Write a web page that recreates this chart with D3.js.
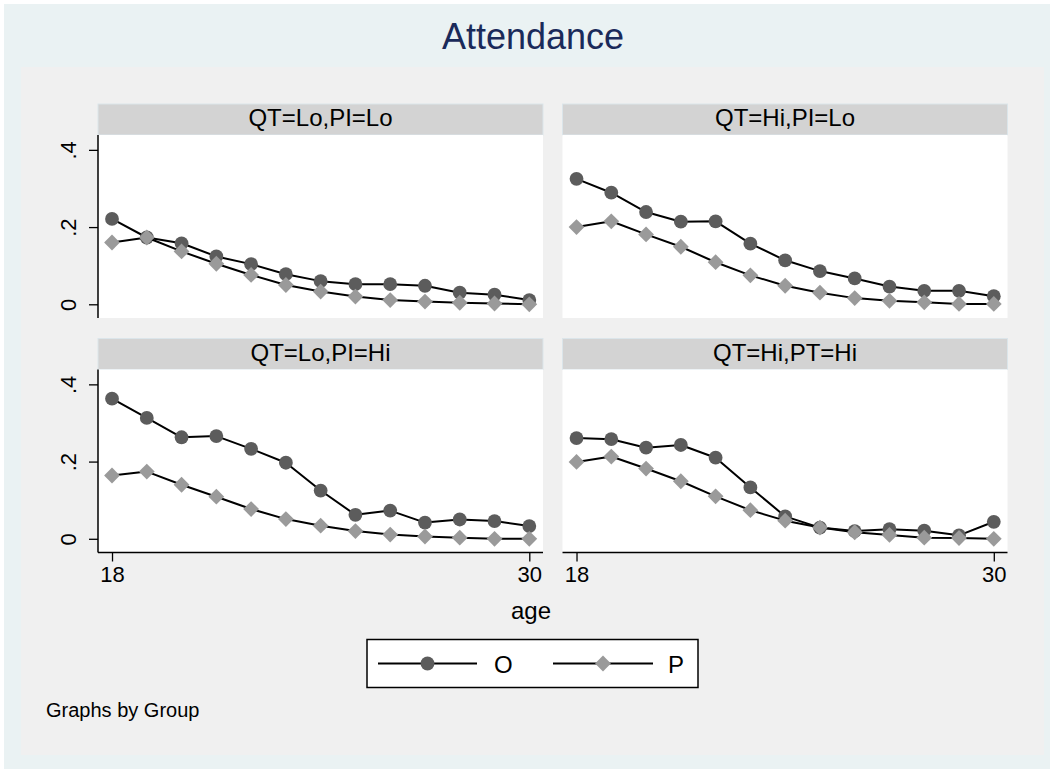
<!DOCTYPE html>
<html>
<head>
<meta charset="utf-8">
<script src="https://cdn.jsdelivr.net/npm/d3@7"></script>
<style>
  html, body { margin: 0; padding: 0; background: #ffffff; }
  svg { display: block; font-family: "Liberation Sans", Arial, Helvetica, sans-serif; }
</style>
</head>
<body>
<svg id="chart" width="1050" height="769"></svg>
<script>
// ---------------- DATA ----------------
const ages = [18, 19, 20, 21, 22, 23, 24, 25, 26, 27, 28, 29, 30];
const panelTitles = ["QT=Lo,PI=Lo", "QT=Hi,PI=Lo", "QT=Lo,PI=Hi", "QT=Hi,PT=Hi"];
const seriesNames = ["O", "P"];
const yTicks = [0, 0.2, 0.4];
const yTickLabels = ["0", ".2", ".4"];
const xTicks = [18, 30];

const loLo_O = [0.221, 0.173, 0.158, 0.124, 0.104, 0.078, 0.060, 0.052, 0.052, 0.048, 0.030, 0.025, 0.011];
const loLo_P = [0.160, 0.173, 0.137, 0.105, 0.076, 0.050, 0.033, 0.020, 0.011, 0.007, 0.004, 0.002, 0.000];
const hiLo_O = [0.325, 0.289, 0.239, 0.214, 0.215, 0.157, 0.114, 0.086, 0.067, 0.046, 0.035, 0.035, 0.021];
const hiLo_P = [0.200, 0.215, 0.181, 0.149, 0.109, 0.075, 0.048, 0.030, 0.016, 0.009, 0.005, 0.001, 0.001];
const loHi_O = [0.363, 0.313, 0.263, 0.266, 0.233, 0.197, 0.125, 0.062, 0.073, 0.042, 0.050, 0.046, 0.033];
const loHi_P = [0.164, 0.174, 0.140, 0.109, 0.077, 0.051, 0.034, 0.020, 0.011, 0.006, 0.003, 0.000, 0.000];
const hiHi_O = [0.261, 0.258, 0.236, 0.243, 0.210, 0.133, 0.058, 0.029, 0.020, 0.025, 0.021, 0.009, 0.044];
const hiHi_P = [0.199, 0.213, 0.182, 0.149, 0.110, 0.074, 0.047, 0.029, 0.017, 0.010, 0.003, 0.002, 0.000];

const panelSeries = [
  [loLo_O, loLo_P],
  [hiLo_O, hiLo_P],
  [loHi_O, loHi_P],
  [hiHi_O, hiHi_P]
];

// ---------------- STYLE / LAYOUT ----------------
const FONT = '"Liberation Sans", Arial, Helvetica, sans-serif';
const colO = "#5c5c5c";
const colP = "#9a9a9a";
const stripFill = "#d3d3d3";

const svg = d3.select("#chart");

// backgrounds
svg.append("rect").attr("x", 4).attr("y", 4).attr("width", 1046).attr("height", 765).attr("fill", "#eaf2f3");
svg.append("rect").attr("x", 21).attr("y", 67).attr("width", 1023).attr("height", 688).attr("fill", "#f0f0f0");

// title
svg.append("text").attr("x", 533).attr("y", 49).attr("text-anchor", "middle")
  .attr("font-size", 36).attr("fill", "#1a2a5a").text("Attendance");

const colX = [98, 562.5];
const panelW = 445;
const stripTop = [104, 338.5];
const stripH = 31;
const plotH = 183;

const xDomain = [17.597, 30.394];
const yDomain = [-0.0355, 0.4385];

function symbolPath(kind) {
  if (kind === 0) {
    const r = 6.9;
    return `M${r},0A${r},${r} 0 1,1 ${-r},0A${r},${r} 0 1,1 ${r},0Z`;
  }
  const d = 7.9;
  return `M0,${-d}L${d},0L0,${d}L${-d},0Z`;
}

panelTitles.forEach((title, i) => {
  const col = i % 2, row = Math.floor(i / 2);
  const left = colX[col];
  const sTop = stripTop[row];
  const pTop = sTop + stripH;
  const pBot = pTop + plotH;

  const x = d3.scaleLinear().domain(xDomain).range([left, left + panelW]);
  const y = d3.scaleLinear().domain(yDomain).range([pBot, pTop]);

  const g = svg.append("g");

  // strip
  g.append("rect").attr("x", left).attr("y", sTop).attr("width", panelW).attr("height", stripH)
    .attr("fill", stripFill).attr("stroke", "#dbe5ea").attr("stroke-width", 1);
  g.append("text").attr("x", left + panelW / 2).attr("y", sTop + 22).attr("text-anchor", "middle")
    .attr("font-size", 24).attr("fill", "#000").text(title);

  // plot region
  g.append("rect").attr("x", left).attr("y", pTop).attr("width", panelW).attr("height", plotH)
    .attr("fill", "#ffffff");

  // y axis (left column only)
  if (col === 0) {
    const yAxis = d3.axisLeft(y).tickValues(yTicks).tickSize(9)
      .tickFormat((d, k) => yTickLabels[k]);
    const ya = g.append("g").attr("transform", `translate(${left},0)`).call(yAxis);
    ya.select(".domain").attr("stroke", "#000").attr("stroke-width", 1.5)
      .attr("d", `M0,${pTop}V${pBot}`);
    ya.selectAll(".tick line").attr("stroke", "#000").attr("stroke-width", 1.3);
    ya.selectAll(".tick text")
      .attr("font-family", FONT).attr("font-size", 22).attr("fill", "#000")
      .attr("x", null).attr("dy", null)
      .attr("text-anchor", "middle")
      .attr("transform", "translate(-22.5,0) rotate(-90)");
  }

  // x axis (bottom row only)
  if (row === 1) {
    const xAxis = d3.axisBottom(x).tickValues(xTicks).tickSize(9).tickFormat(d3.format("d"));
    const xa = g.append("g").attr("transform", `translate(0,${pBot})`).call(xAxis);
    xa.select(".domain").attr("stroke", "#000").attr("stroke-width", 1.5)
      .attr("d", `M${left},0H${left + panelW}`);
    xa.selectAll(".tick line").attr("stroke", "#000").attr("stroke-width", 1.3);
    xa.selectAll(".tick text")
      .attr("font-family", FONT).attr("font-size", 22).attr("fill", "#000")
      .attr("y", 29.5).attr("dy", null);
  }

  // series
  const line = d3.line().x((d, k) => x(ages[k])).y(d => y(d));
  panelSeries[i].forEach((vals, s) => {
    g.append("path").datum(vals).attr("d", line).attr("fill", "none")
      .attr("stroke", "#000").attr("stroke-width", 2).attr("stroke-linejoin", "round");
    g.selectAll(null).data(vals).enter().append("path")
      .attr("d", symbolPath(s))
      .attr("transform", (d, k) => `translate(${x(ages[k])},${y(d)})`)
      .attr("fill", s === 0 ? colO : colP);
  });
});

// x axis title
svg.append("text").attr("x", 531).attr("y", 619).attr("text-anchor", "middle")
  .attr("font-size", 24).attr("fill", "#000").text("age");

// legend
const lg = svg.append("g");
lg.append("rect").attr("x", 367).attr("y", 639.5).attr("width", 331).attr("height", 48)
  .attr("fill", "#ffffff").attr("stroke", "#000").attr("stroke-width", 1.5);
const legendItems = [
  { x0: 378, x1: 477, tx: 494 },
  { x0: 553, x1: 653, tx: 668 }
];
seriesNames.forEach((name, s) => {
  const it = legendItems[s];
  const cy = 663.5;
  lg.append("line").attr("x1", it.x0).attr("x2", it.x1).attr("y1", cy).attr("y2", cy)
    .attr("stroke", "#000").attr("stroke-width", 2);
  lg.append("path").attr("d", symbolPath(s))
    .attr("transform", `translate(${(it.x0 + it.x1) / 2},${cy})`)
    .attr("fill", s === 0 ? colO : colP);
  lg.append("text").attr("x", it.tx).attr("y", cy + 9).attr("font-size", 24)
    .attr("fill", "#000").text(name);
});

// note
svg.append("text").attr("x", 46).attr("y", 716.5).attr("font-size", 20)
  .attr("fill", "#000").text("Graphs by Group");
</script>
</body>
</html>
